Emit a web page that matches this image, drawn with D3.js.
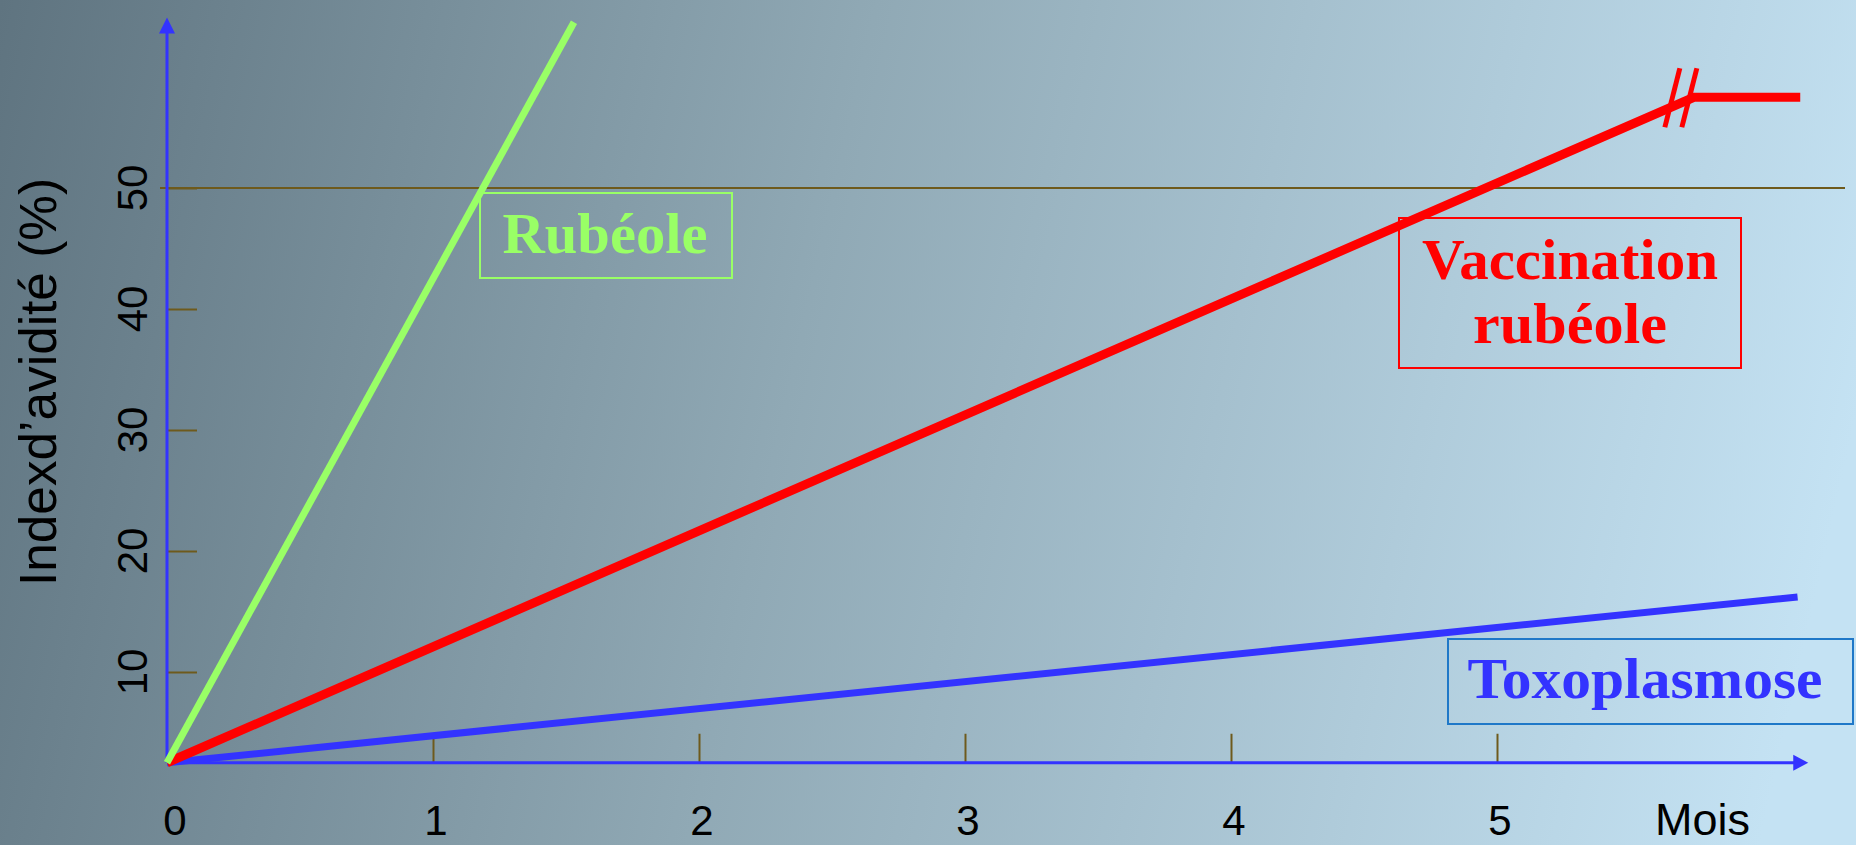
<!DOCTYPE html>
<html>
<head>
<meta charset="utf-8">
<script src="https://cdn.jsdelivr.net/npm/d3@7"></script>
<style>
  html, body { margin: 0; padding: 0; overflow: hidden; }
  svg { display: block; }
</style>
</head>
<body>
<svg id="chart" width="1856" height="845"></svg>
<script>
// Avidity index (%) over time (months) for three situations
const months = [0, 1, 2, 3, 4, 5];
const yTicks = [10, 20, 30, 40, 50];
const threshold = 50;
const axisBase = 2.5;             // value where the horizontal axis sits
const rubeole = [[0, 2.5], [1.53, 63.7]];
const vaccination = [[0, 2.5], [5.74, 57.5], [6.14, 57.5]];
const toxoplasmose = [[0, 2.5], [6.13, 16.2]];
const xEnd = 6.17;                 // arrow tip of the time axis
const yEnd = 64.1;                 // arrow tip of the avidity axis

const W = 1856, H = 845;
const svg = d3.select("#chart");

// background gradient
const defs = svg.append("defs");
const grad = defs.append("linearGradient")
  .attr("id", "bg").attr("gradientUnits", "userSpaceOnUse")
  .attr("x1", 0).attr("y1", 0).attr("x2", W).attr("y2", 420);
grad.append("stop").attr("offset", 0).attr("stop-color", "#5f7480");
grad.append("stop").attr("offset", 0.45).attr("stop-color", "#90a9b5");
grad.append("stop").attr("offset", 1).attr("stop-color", "#c4e2f3");
svg.append("rect").attr("width", W).attr("height", H).attr("fill", "url(#bg)");

const x = d3.scaleLinear().domain([0, 5]).range([167, 1497]);
const y = d3.scaleLinear().domain([0, 50]).range([793, 188]);

const axisBlue = "#3333ff";
const tickBrown = "#6e5a1c";

// 50 % threshold line
svg.append("line")
  .attr("x1", x(0) - 7).attr("x2", 1845)
  .attr("y1", y(threshold)).attr("y2", y(threshold))
  .attr("stroke", tickBrown).attr("stroke-width", 2);

// y ticks (inside, to the right of the axis)
const yAxis = d3.axisRight(y).tickValues(yTicks).tickSize(30).tickFormat("");
const gy = svg.append("g").attr("transform", `translate(${x(0)},0)`).call(yAxis);
gy.select(".domain").remove();
gy.selectAll(".tick line").attr("stroke", tickBrown).attr("stroke-width", 2);

// y tick labels, rotated
svg.append("g").selectAll("text").data(yTicks).join("text")
  .attr("transform", d => `translate(147,${y(d)}) rotate(-90)`)
  .attr("text-anchor", "middle")
  .attr("font-family", "Liberation Sans, Arial, sans-serif")
  .attr("font-size", 42).attr("fill", "#000")
  .text(d => d);

// x ticks (upward from the axis)
const xAxis = d3.axisTop(x).tickValues(months.filter(d => d > 0)).tickSize(29).tickFormat("");
const gx = svg.append("g").attr("transform", `translate(0,${y(axisBase)})`).call(xAxis);
gx.select(".domain").remove();
gx.selectAll(".tick line").attr("stroke", tickBrown).attr("stroke-width", 2);

// x tick labels
svg.append("g").selectAll("text").data(months).join("text")
  .attr("x", d => x(d) + (d === 0 ? 8 : 3))
  .attr("y", 835)
  .attr("text-anchor", "middle")
  .attr("font-family", "Liberation Sans, Arial, sans-serif")
  .attr("font-size", 42).attr("fill", "#000")
  .text(d => d);

svg.append("text")
  .attr("x", 1655).attr("y", 835)
  .attr("font-family", "Liberation Sans, Arial, sans-serif")
  .attr("font-size", 45).attr("fill", "#000")
  .text("Mois");

// y title
svg.append("text")
  .attr("transform", `translate(56,382) rotate(-90)`)
  .attr("text-anchor", "middle")
  .attr("font-family", "Liberation Sans, Arial, sans-serif")
  .attr("font-size", 52).attr("fill", "#000")
  .attr("textLength", 408).attr("lengthAdjust", "spacingAndGlyphs")
  .text("Indexd\u2019avidité (%)");

// axes with arrow heads
const ax0 = x(0), ay0 = y(axisBase);
svg.append("line").attr("x1", ax0).attr("y1", ay0).attr("x2", ax0).attr("y2", y(yEnd) + 14)
  .attr("stroke", axisBlue).attr("stroke-width", 3);
svg.append("path")
  .attr("d", `M${ax0},${y(yEnd)} L${ax0 - 8},${y(yEnd) + 16} L${ax0 + 8},${y(yEnd) + 16} Z`)
  .attr("fill", axisBlue);
svg.append("line").attr("x1", ax0).attr("y1", ay0).attr("x2", x(xEnd) - 14).attr("y2", ay0)
  .attr("stroke", axisBlue).attr("stroke-width", 3);
svg.append("path")
  .attr("d", `M${x(xEnd)},${ay0} L${x(xEnd) - 15},${ay0 - 8} L${x(xEnd) - 15},${ay0 + 8} Z`)
  .attr("fill", axisBlue);

// series
const line = d3.line().x(d => x(d[0])).y(d => y(d[1]));
const series = [
  { data: toxoplasmose, color: "#3333ff", width: 7 },
  { data: vaccination, color: "#ff0000", width: 9 },
  { data: rubeole, color: "#99ff66", width: 7 }
];
svg.append("g").selectAll("path").data(series).join("path")
  .attr("d", d => line(d.data))
  .attr("fill", "none")
  .attr("stroke", d => d.color)
  .attr("stroke-width", d => d.width)
  .attr("stroke-linejoin", "miter");

// axis break marks on the vaccination curve
const bx = x(vaccination[1][0]), by = y(vaccination[1][1]);
[-22, -5].forEach(off => {
  svg.append("line")
    .attr("x1", bx + off - 7).attr("y1", by + 30)
    .attr("x2", bx + off + 8).attr("y2", by - 29)
    .attr("stroke", "#ff0000").attr("stroke-width", 5);
});

// labels in boxes
const serif = "Liberation Serif, Times New Roman, serif";
function box(x0, y0, w, h, stroke) {
  svg.append("rect").attr("x", x0).attr("y", y0).attr("width", w).attr("height", h)
    .attr("fill", "none").attr("stroke", stroke).attr("stroke-width", 2);
}
function label(cx, base, txt, color, len) {
  svg.append("text").attr("x", cx).attr("y", base)
    .attr("text-anchor", "middle")
    .attr("font-family", serif).attr("font-weight", "bold")
    .attr("font-size", 56).attr("fill", color)
    .attr("textLength", len).attr("lengthAdjust", "spacingAndGlyphs")
    .text(txt);
}
box(480, 193, 252, 85, "#99ff66");
label(605, 253, "Rubéole", "#99ff66", 205);

box(1399, 218, 342, 150, "#ff0000");
label(1570, 279, "Vaccination", "#ff0000", 296);
label(1570, 343, "rubéole", "#ff0000", 194);

box(1448, 639, 405, 85, "#1f78c8");
label(1645, 698, "Toxoplasmose", "#3333ff", 355);
</script>
</body>
</html>
